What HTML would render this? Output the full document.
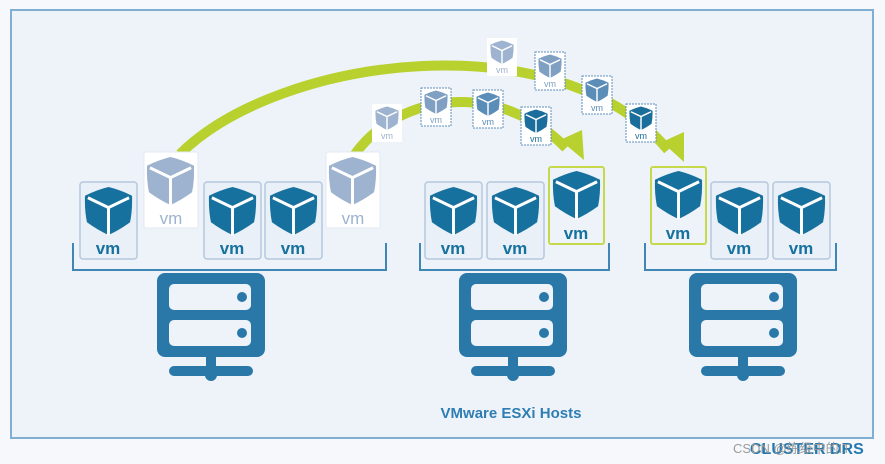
<!DOCTYPE html>
<html><head><meta charset="utf-8"><style>
html,body{margin:0;padding:0;background:#f6f8fb;}
svg{display:block;}
</style></head><body>
<svg width="885" height="464" viewBox="0 0 885 464" xmlns="http://www.w3.org/2000/svg" font-family="Liberation Sans, sans-serif">
<defs>
<g id="cube">
<path d="M50,2 Q75,8 98,20 Q99,50 94,74 Q72,90 50,100 Q28,90 6,74 Q1,50 2,20 Q25,8 50,2Z"/>
<path d="M8,24 L50,44 L92,24 M50,44 L50,100" stroke="#fff" stroke-width="6" fill="none"/>
</g>
</defs>
<rect x="0" y="0" width="885" height="464" fill="#f6f8fb"/>
<rect x="11" y="10" width="862" height="428" fill="#eef3fa" stroke="#7fb0d3" stroke-width="2"/>

<!-- arcs -->
<path d="M180,154 C280,55 560,20 668,150" stroke="#b8d12e" stroke-width="10" fill="none"/>
<path d="M355,154 C400,92 500,80 566,148" stroke="#b8d12e" stroke-width="10" fill="none"/>
<polygon points="560,140 584,160 582,130" fill="#b8d12e"/>
<polygon points="662,142 684,162 684,132" fill="#b8d12e"/>

<!-- small migrating vms -->
<g>
<rect x="372" y="104" width="30" height="38" fill="#fff"/>
<use href="#cube" transform="translate(375,106) scale(0.24)" fill="#9db3cf"/>
<text x="387" y="139" font-size="9" fill="#9db3cf" text-anchor="middle">vm</text>

<rect x="421" y="88" width="30" height="38" fill="#fff" stroke="#5f8fb8" stroke-dasharray="2,1"/>
<use href="#cube" transform="translate(424,90) scale(0.24)" fill="#7f9fc3"/>
<text x="436" y="123" font-size="9" fill="#7f9fc3" text-anchor="middle">vm</text>

<rect x="473" y="90" width="30" height="38" fill="#fff" stroke="#5f8fb8" stroke-dasharray="2,1"/>
<use href="#cube" transform="translate(476,92) scale(0.24)" fill="#5a8db8"/>
<text x="488" y="125" font-size="9" fill="#5a8db8" text-anchor="middle">vm</text>

<rect x="521" y="107" width="30" height="38" fill="#fff" stroke="#5f8fb8" stroke-dasharray="2,1"/>
<use href="#cube" transform="translate(524,109) scale(0.24)" fill="#1b6e9c"/>
<text x="536" y="142" font-size="9" fill="#1b6e9c" text-anchor="middle">vm</text>

<rect x="487" y="38" width="30" height="38" fill="#fff"/>
<use href="#cube" transform="translate(490,40) scale(0.24)" fill="#9db3cf"/>
<text x="502" y="73" font-size="9" fill="#9db3cf" text-anchor="middle">vm</text>

<rect x="535" y="52" width="30" height="38" fill="#fff" stroke="#5f8fb8" stroke-dasharray="2,1"/>
<use href="#cube" transform="translate(538,54) scale(0.24)" fill="#7f9fc3"/>
<text x="550" y="87" font-size="9" fill="#7f9fc3" text-anchor="middle">vm</text>

<rect x="582" y="76" width="30" height="38" fill="#fff" stroke="#5f8fb8" stroke-dasharray="2,1"/>
<use href="#cube" transform="translate(585,78) scale(0.24)" fill="#5a8db8"/>
<text x="597" y="111" font-size="9" fill="#5a8db8" text-anchor="middle">vm</text>

<rect x="626" y="104" width="30" height="38" fill="#fff" stroke="#5f8fb8" stroke-dasharray="2,1"/>
<use href="#cube" transform="translate(629,106) scale(0.24)" fill="#1b6e9c"/>
<text x="641" y="139" font-size="9" fill="#1b6e9c" text-anchor="middle">vm</text>
</g>

<!-- big vm cards -->
<g font-weight="bold" font-size="17" text-anchor="middle">
<!-- host1 -->
<rect x="80" y="182" width="57" height="77" rx="3" fill="#e9f0f8" stroke="#b5c8de" stroke-width="1.5"/>
<use href="#cube" transform="translate(84,186) scale(0.49)" fill="#17719e"/>
<text x="108" y="254" fill="#17719e">vm</text>

<rect x="144" y="152" width="54" height="76" rx="2" fill="#fff" stroke="#e3eaf2"/>
<use href="#cube" transform="translate(146,156) scale(0.49)" fill="#9db3cf"/>
<text x="171" y="224" fill="#9db3cf" font-weight="normal">vm</text>

<rect x="204" y="182" width="57" height="77" rx="3" fill="#e9f0f8" stroke="#b5c8de" stroke-width="1.5"/>
<use href="#cube" transform="translate(208,186) scale(0.49)" fill="#17719e"/>
<text x="232" y="254" fill="#17719e">vm</text>

<rect x="265" y="182" width="57" height="77" rx="3" fill="#e9f0f8" stroke="#b5c8de" stroke-width="1.5"/>
<use href="#cube" transform="translate(269,186) scale(0.49)" fill="#17719e"/>
<text x="293" y="254" fill="#17719e">vm</text>

<rect x="326" y="152" width="54" height="76" rx="2" fill="#fff" stroke="#e3eaf2"/>
<use href="#cube" transform="translate(328,156) scale(0.49)" fill="#9db3cf"/>
<text x="353" y="224" fill="#9db3cf" font-weight="normal">vm</text>

<!-- host2 -->
<rect x="425" y="182" width="57" height="77" rx="3" fill="#e9f0f8" stroke="#b5c8de" stroke-width="1.5"/>
<use href="#cube" transform="translate(429,186) scale(0.49)" fill="#17719e"/>
<text x="453" y="254" fill="#17719e">vm</text>

<rect x="487" y="182" width="57" height="77" rx="3" fill="#e9f0f8" stroke="#b5c8de" stroke-width="1.5"/>
<use href="#cube" transform="translate(491,186) scale(0.49)" fill="#17719e"/>
<text x="515" y="254" fill="#17719e">vm</text>

<rect x="549" y="167" width="55" height="77" rx="2" fill="#eef3fa" stroke="#c5d94a" stroke-width="2"/>
<use href="#cube" transform="translate(552,170) scale(0.49)" fill="#17719e"/>
<text x="576" y="239" fill="#17719e">vm</text>

<!-- host3 -->
<rect x="651" y="167" width="55" height="77" rx="2" fill="#eef3fa" stroke="#c5d94a" stroke-width="2"/>
<use href="#cube" transform="translate(654,170) scale(0.49)" fill="#17719e"/>
<text x="678" y="239" fill="#17719e">vm</text>

<rect x="711" y="182" width="57" height="77" rx="3" fill="#e9f0f8" stroke="#b5c8de" stroke-width="1.5"/>
<use href="#cube" transform="translate(715,186) scale(0.49)" fill="#17719e"/>
<text x="739" y="254" fill="#17719e">vm</text>

<rect x="773" y="182" width="57" height="77" rx="3" fill="#e9f0f8" stroke="#b5c8de" stroke-width="1.5"/>
<use href="#cube" transform="translate(777,186) scale(0.49)" fill="#17719e"/>
<text x="801" y="254" fill="#17719e">vm</text>
</g>

<!-- brackets -->
<g stroke="#3f86b5" stroke-width="2" fill="none">
<path d="M73,243 V270 H386 V243"/>
<path d="M420,243 V270 H609 V243"/>
<path d="M645,243 V270 H836 V243"/>
</g>

<!-- servers -->
<g id="srv">
<rect x="157" y="273" width="108" height="84" rx="8" fill="#2a78a8"/>
<rect x="169" y="284" width="82" height="26" rx="5" fill="#eef3fa"/>
<rect x="169" y="320" width="82" height="26" rx="5" fill="#eef3fa"/>
<circle cx="242" cy="297" r="5" fill="#2a78a8"/>
<circle cx="242" cy="333" r="5" fill="#2a78a8"/>
<rect x="206" y="357" width="10" height="10" fill="#2a78a8"/>
<rect x="169" y="366" width="84" height="10" rx="5" fill="#2a78a8"/>
<circle cx="211" cy="375" r="6" fill="#2a78a8"/>
</g>
<use href="#srv" transform="translate(302,0)"/>
<use href="#srv" transform="translate(532,0)"/>

<text x="511" y="418" font-size="15" font-weight="bold" fill="#2e7db3" text-anchor="middle">VMware ESXi Hosts</text>

<text x="750" y="454" font-size="16" font-weight="bold" fill="#2278b0">CLUSTER DRS</text>
<text x="733" y="453" font-size="13" fill="#9a9a9a">CSDN @练级中的IT</text>
</svg>
</body></html>
